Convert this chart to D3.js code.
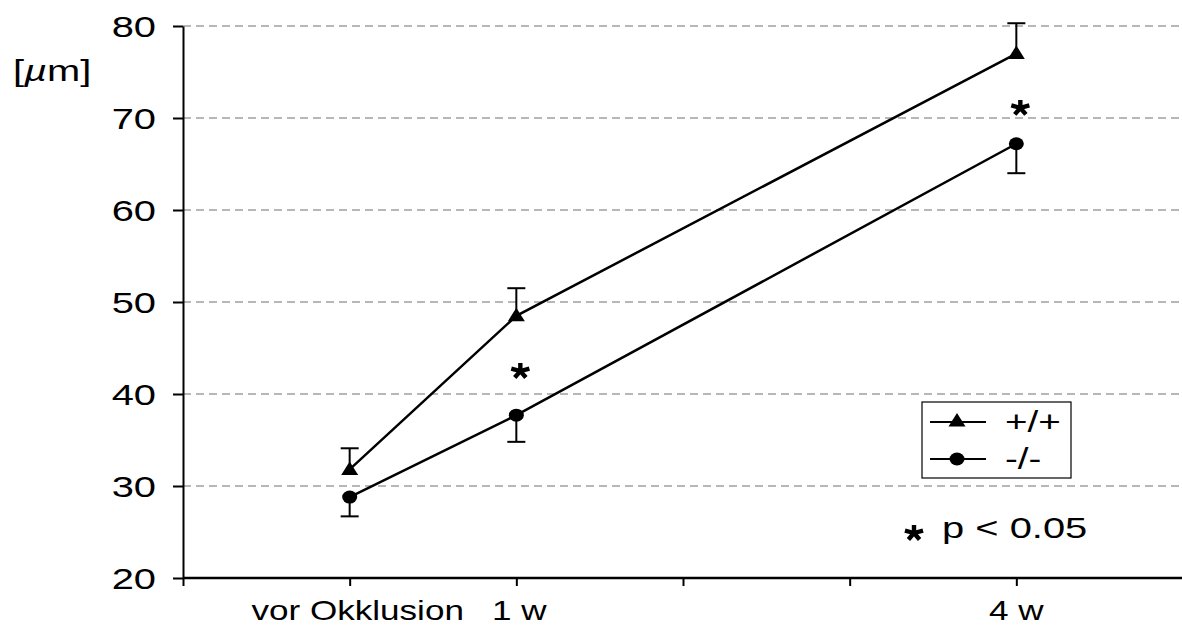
<!DOCTYPE html>
<html>
<head>
<meta charset="utf-8">
<script src="https://cdn.jsdelivr.net/npm/d3@7"></script>
<style>
body { margin: 0; background: #fff; }
text { font-family: "Liberation Sans", Arial, sans-serif; fill: #000; }
</style>
</head>
<body>
<div class="main"></div>
<script>
// data
var xPos = [1, 2, 5];                 // vor Okklusion, 1 w, 4 w (weeks + 1)
var xLabels = ["vor Okklusion", "1 w", "4 w"];
var wtMean = [31.8, 48.5, 77.0];      // +/+
var wtErr = [2.3, 3.0, 3.3];
var koMean = [28.8, 37.7, 67.2];      // -/-
var koErr = [2.1, 2.9, 3.2];
var yTicks = [20, 30, 40, 50, 60, 70, 80];
var starPos = [{x: 2, y: 42.6}, {x: 5, y: 71.2}];

var width = 1182, height = 628;
var sx = 1.33; // text in the source is stretched horizontally

var svg = d3.select(".main")
	.append("svg")
	.attr("width", width)
	.attr("height", height);

var xScale = d3.scaleLinear().domain([0, 6]).range([183, 1183]);
var yScale = d3.scaleLinear().domain([20, 80]).range([578, 26]);

//grid lines
svg.append("g")
	.attr("class", "grid")
	.selectAll("line")
	.data(yTicks.filter(function(d) { return d > 20; }))
	.enter()
	.append("line")
	.attr("x1", xScale(0))
	.attr("x2", width)
	.attr("y1", function(d) { return yScale(d); })
	.attr("y2", function(d) { return yScale(d); })
	.style("stroke", "#a0a0a0")
	.style("stroke-width", 1.6)
	.style("stroke-dasharray", "8,5");

//y axis
var yAxis = d3.axisLeft(yScale).tickValues(yTicks).tickSize(10).tickSizeOuter(0);
var gy = svg.append("g")
	.attr("class", "y-axis")
	.attr("transform", "translate(" + xScale(0) + ",0)")
	.call(yAxis);
gy.select(".domain").style("stroke-width", 2);
gy.selectAll(".tick line").style("stroke-width", 2);
gy.selectAll(".tick text")
	.attr("x", -27 / sx)
	.attr("dy", "0.34em")
	.attr("transform", "scale(" + sx + ",1)")
	.style("font-size", "30px");

//x axis
var xAxis = d3.axisBottom(xScale)
	.tickValues([0, 1, 2, 3, 4, 5])
	.tickSize(8)
	.tickSizeOuter(0)
	.tickFormat("");
var gx = svg.append("g")
	.attr("class", "x-axis")
	.attr("transform", "translate(0," + yScale(20) + ")")
	.call(xAxis);
gx.select(".domain").attr("d", "M" + xScale(0) + ",0H" + width).style("stroke-width", 2.5);
gx.selectAll(".tick line").style("stroke-width", 2);

var labelShift = [8, 3, 0];
svg.append("g")
	.attr("class", "x-labels")
	.selectAll("text")
	.data(xLabels)
	.enter()
	.append("text")
	.attr("text-anchor", "middle")
	.attr("transform", function(d, i) {
		return "translate(" + (xScale(xPos[i]) + labelShift[i]) + ",620) scale(1.3,1)";
	})
	.style("font-size", "27px")
	.text(function(d) { return d; });

//y axis label
svg.append("text")
	.attr("transform", "translate(13,81) scale(" + sx + ",1)")
	.style("font-size", "30px")
	.html("[<tspan font-style='italic'>\u00b5</tspan>m]");

//series
var series = [
	{name: "+/+", mean: wtMean, err: wtErr, dir: 1, marker: "tri"},
	{name: "-/-", mean: koMean, err: koErr, dir: -1, marker: "dot"}
];

var line = d3.line()
	.x(function(d) { return xScale(d.x); })
	.y(function(d) { return yScale(d.y); });

function drawMarker(g, type, x, y) {
	if (type == "tri") {
		g.append("path")
			.attr("d", "M" + (x - 8.5) + "," + (y + 5.5) + "L" + x + "," + (y - 8) + "L" + (x + 8.5) + "," + (y + 5.5) + "Z")
			.style("fill", "#000");
	} else {
		g.append("ellipse")
			.attr("cx", x).attr("cy", y)
			.attr("rx", 7.5).attr("ry", 6.5)
			.style("fill", "#000");
	}
}

// five-armed bold asterisk
function drawStar(g, x, y) {
	var p = "";
	for (var k = 0; k < 5; k++) {
		var a = -Math.PI / 2 + k * 2 * Math.PI / 5;
		p += "M" + x + "," + y + "L" + (x + 9.5 * Math.cos(a)) + "," + (y + 8 * Math.sin(a));
	}
	g.append("path")
		.attr("d", p)
		.style("stroke", "#000")
		.style("stroke-width", 4.4)
		.style("stroke-linecap", "butt");
}

series.forEach(function(s) {
	var pts = xPos.map(function(x, i) { return {x: x, y: s.mean[i], e: s.err[i]}; });
	var g = svg.append("g").attr("class", "series");
	// error bars (one side only)
	pts.forEach(function(p) {
		var yEnd = yScale(p.y + s.dir * p.e);
		g.append("line")
			.attr("x1", xScale(p.x)).attr("x2", xScale(p.x))
			.attr("y1", yScale(p.y)).attr("y2", yEnd)
			.style("stroke", "#000").style("stroke-width", 2);
		g.append("line")
			.attr("x1", xScale(p.x) - 9).attr("x2", xScale(p.x) + 9)
			.attr("y1", yEnd).attr("y2", yEnd)
			.style("stroke", "#000").style("stroke-width", 2);
	});
	g.append("path")
		.datum(pts)
		.attr("d", line)
		.style("fill", "none")
		.style("stroke", "#000")
		.style("stroke-width", 2.5);
	pts.forEach(function(p) {
		drawMarker(g, s.marker, xScale(p.x), yScale(p.y));
	});
});

//significance stars
var stars = svg.append("g").attr("class", "stars");
starPos.forEach(function(d) {
	drawStar(stars, xScale(d.x) + 4, yScale(d.y) + 1);
});

//legend
var legend = svg.append("g").attr("class", "legend");
legend.append("rect")
	.attr("x", 922).attr("y", 402)
	.attr("width", 149).attr("height", 76)
	.style("fill", "#fff")
	.style("stroke", "#000")
	.style("stroke-width", 1.2);
series.forEach(function(s, i) {
	var ly = 422 + i * 37;
	legend.append("line")
		.attr("x1", 930).attr("x2", 986)
		.attr("y1", ly).attr("y2", ly)
		.style("stroke", "#000").style("stroke-width", 2);
	drawMarker(legend, s.marker, 957, s.marker == "tri" ? ly - 1 : ly);
	legend.append("text")
		.attr("transform", "translate(1005," + (ly + 10) + ") scale(" + sx + ",1)")
		.style("font-size", "29px")
		.text(s.name);
});

//p value note
drawStar(svg, 914, 533);
svg.append("text")
	.attr("transform", "translate(942,538) scale(" + sx + ",1)")
	.style("font-size", "30px")
	.text("p < 0.05");
</script>
</body>
</html>
